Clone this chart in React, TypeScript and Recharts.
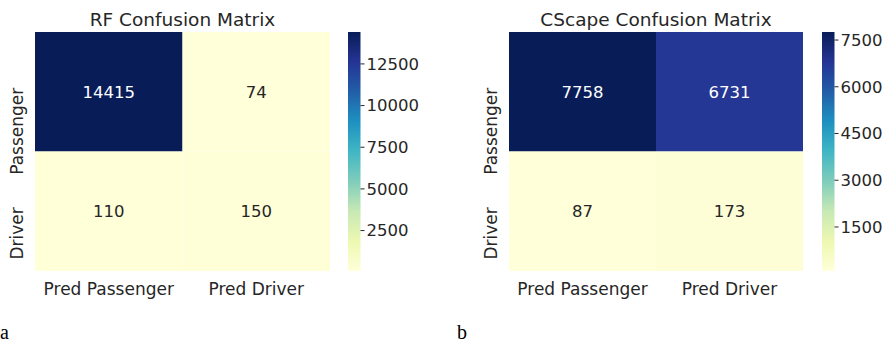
import React from 'react';
import { ComposedChart, XAxis, YAxis, ReferenceArea, Scatter } from 'recharts';

// confusion matrices: rows = actual class, cols = predicted class
const rowLabels = ['Passenger', 'Driver'];
const colLabels = ['Pred Passenger', 'Pred Driver'];
const rfMatrix = [
  [14415, 74],
  [110, 150],
];
const cscapeMatrix = [
  [7758, 6731],
  [87, 173],
];
const rfBarTicks = [2500, 5000, 7500, 10000, 12500];
const cscapeBarTicks = [1500, 3000, 4500, 6000, 7500];

// YlGnBu colormap stops
const ylGnBu = ['#ffffd9', '#edf8b1', '#c7e9b4', '#7fcdbb', '#41b6c4', '#1d91c0', '#225ea8', '#253494', '#081d58'];

const FONT = '"DejaVu Sans", sans-serif';
const INK = '#262626';
const TICK_SIZE = 16.5;
const AXIS_LABEL_SIZE = 17;

const hexToRgb = (hex: string) => [1, 3, 5].map((i) => parseInt(hex.slice(i, i + 2), 16));

const colormap = (t: number) => {
  const s = Math.max(0, Math.min(1, t)) * (ylGnBu.length - 1);
  const i = Math.min(Math.floor(s), ylGnBu.length - 2);
  const f = s - i;
  const a = hexToRgb(ylGnBu[i]);
  const b = hexToRgb(ylGnBu[i + 1]);
  const c = a.map((v, k) => Math.round(v + (b[k] - v) * f));
  return `rgb(${c[0]},${c[1]},${c[2]})`;
};

// white annotation text on dark cells
const isDark = (rgb: string) => {
  const [r, g, b] = rgb.match(/\d+/g)!.map((v) => {
    const c = Number(v) / 255;
    return c <= 0.03928 ? c / 12.92 : Math.pow((c + 0.055) / 1.055, 2.4);
  });
  return 0.2126 * r + 0.7152 * g + 0.0722 * b <= 0.408;
};

const PLOT_TOP = 32;
const PLOT_BOTTOM = 271;
const CHART_H = 345;

type PanelProps = {
  title: string;
  matrix: number[][];
  barTicks: number[];
  left: number;
  width: number;
  barLeft: number;
  letter: string;
  letterX: number;
  id: string;
};

const Panel: React.FC<PanelProps> = ({ title, matrix, barTicks, left, width, barLeft, letter, letterX, id }) => {
  const flat = matrix.flat();
  const vmin = Math.min(...flat);
  const vmax = Math.max(...flat);
  const yAxisW = 35;
  const titleX = yAxisW + (width - yAxisW) / 2;

  const cells = matrix.flatMap((row, r) =>
    row.map((v, c) => {
      const fill = colormap((v - vmin) / (vmax - vmin));
      return { r, c, x: c + 0.5, y: r + 0.5, value: v, fill };
    }),
  );
  const barData = [
    { x: 0, v: vmin },
    { x: 1, v: vmax },
  ];

  return (
    <>
      <div style={{ position: 'absolute', left, top: 0 }}>
        <ComposedChart
          width={width}
          height={CHART_H}
          data={cells}
          margin={{ top: PLOT_TOP, right: 0, bottom: 0, left: 0 }}
        >
          <XAxis
            type="number"
            dataKey="x"
            domain={[0, 2]}
            ticks={[0.5, 1.5]}
            height={CHART_H - PLOT_BOTTOM}
            axisLine={false}
            tickLine={false}
            tickSize={0}
            tickMargin={0}
            tick={(p: any) => (
              <text
                x={p.x}
                y={p.y + 24}
                textAnchor="middle"
                fill={INK}
                fontFamily={FONT}
                fontSize={AXIS_LABEL_SIZE}
              >
                {colLabels[Math.floor(p.payload.value)]}
              </text>
            )}
          />
          <YAxis
            type="number"
            dataKey="y"
            domain={[0, 2]}
            reversed
            ticks={[0.5, 1.5]}
            width={yAxisW}
            axisLine={false}
            tickLine={false}
            tickSize={0}
            tickMargin={0}
            tick={(p: any) => {
              const tx = p.x - 12;
              const ty = p.y - 4;
              return (
                <text
                  x={tx}
                  y={ty}
                  transform={`rotate(-90 ${tx} ${ty})`}
                  textAnchor="end"
                  fill={INK}
                  fontFamily={FONT}
                  fontSize={AXIS_LABEL_SIZE}
                >
                  {rowLabels[Math.floor(p.payload.value)]}
                </text>
              );
            }}
          />
          {cells.map((cell) => (
            <ReferenceArea
              key={`${id}-${cell.r}-${cell.c}`}
              x1={cell.c}
              x2={cell.c + 1}
              y1={cell.r}
              y2={cell.r + 1}
              fill={cell.fill}
              fillOpacity={1}
              stroke="none"
              ifOverflow="visible"
              label={{
                value: String(cell.value),
                position: 'center',
                fill: isDark(cell.fill) ? '#ffffff' : INK,
                fontSize: TICK_SIZE,
                fontFamily: FONT,
              }}
            />
          ))}
          <Scatter dataKey="y" shape={() => <g />} isAnimationActive={false} />
          <text x={titleX} y={26} textAnchor="middle" fill={INK} fontFamily={FONT} fontSize={18.5}>
            {title}
          </text>
        </ComposedChart>
      </div>
      <div style={{ position: 'absolute', left: barLeft, top: 0 }}>
        <ComposedChart
          width={92}
          height={CHART_H}
          data={barData}
          margin={{ top: PLOT_TOP, right: 0, bottom: CHART_H - PLOT_BOTTOM, left: 0 }}
        >
          <defs>
            <linearGradient id={`${id}-bar`} x1="0" y1="1" x2="0" y2="0">
              {ylGnBu.map((col, i) => (
                <stop key={col} offset={i / (ylGnBu.length - 1)} stopColor={col} />
              ))}
            </linearGradient>
          </defs>
          <XAxis type="number" dataKey="x" domain={[0, 1]} hide />
          <YAxis
            type="number"
            dataKey="v"
            orientation="right"
            domain={[vmin, vmax]}
            ticks={barTicks}
            width={79.5}
            axisLine={false}
            tickSize={4}
            tickMargin={2}
            tickLine={{ stroke: INK }}
            tick={{ fill: INK, fontFamily: FONT, fontSize: TICK_SIZE }}
            allowDataOverflow
          />
          <ReferenceArea
            x1={0}
            x2={1}
            y1={vmin}
            y2={vmax}
            fill={`url(#${id}-bar)`}
            fillOpacity={1}
            stroke="none"
            ifOverflow="visible"
          />
          <Scatter dataKey="v" shape={() => <g />} isAnimationActive={false} />
        </ComposedChart>
      </div>
      <div
        style={{
          position: 'absolute',
          left: letterX,
          top: 321,
          fontFamily: '"Liberation Serif", "Times New Roman", serif',
          fontSize: 20,
          lineHeight: '23px',
          color: '#000',
        }}
      >
        {letter}
      </div>
    </>
  );
};

export default function App() {
  return (
    <div
      style={{
        position: 'absolute',
        left: 0,
        top: 0,
        width: 887,
        height: 345,
        overflow: 'hidden',
        background: '#ffffff',
      }}
    >
      <Panel
        title="RF Confusion Matrix"
        matrix={rfMatrix}
        barTicks={rfBarTicks}
        left={0}
        width={330}
        barLeft={348}
        letter="a"
        letterX={0}
        id="rf"
      />
      <Panel
        title="CScape Confusion Matrix"
        matrix={cscapeMatrix}
        barTicks={cscapeBarTicks}
        left={474}
        width={329}
        barLeft={822}
        letter="b"
        letterX={457}
        id="cscape"
      />
    </div>
  );
}
